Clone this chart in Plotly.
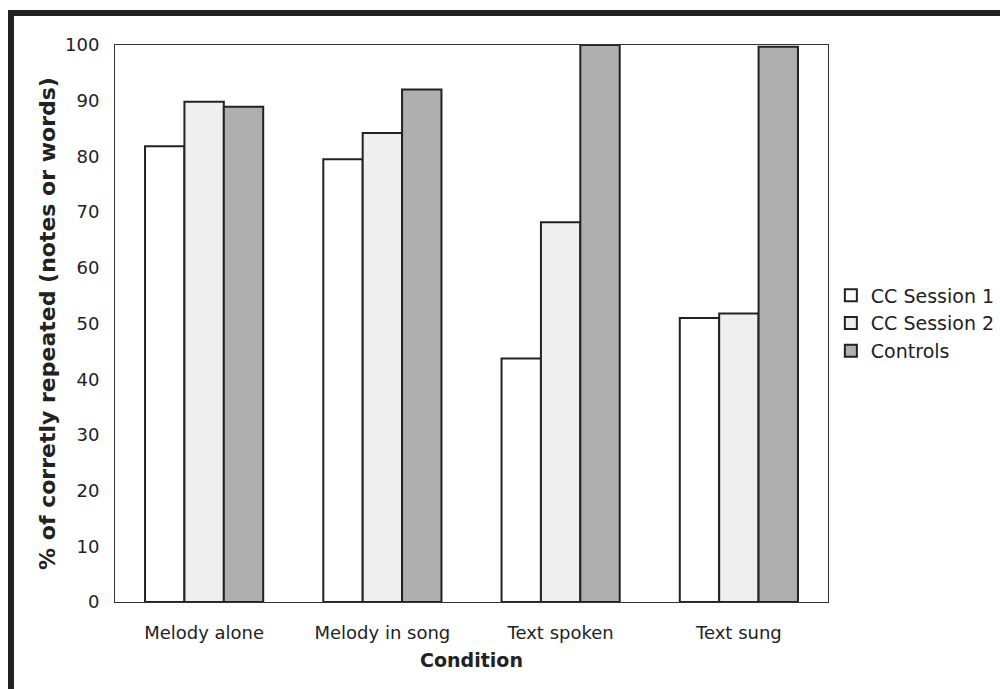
import plotly.graph_objects as go

conditions = ["Melody alone", "Melody in song", "Text spoken", "Text sung"]
session1 = [81.8, 79.5, 43.7, 51.0]
session2 = [89.8, 84.2, 68.2, 51.8]
controls = [88.9, 92.0, 100.0, 99.7]

series = [
    ("CC Session 1", session1, "#ffffff"),
    ("CC Session 2", session2, "#efefef"),
    ("Controls", controls, "#afafaf"),
]

font_family = "DejaVu Sans"

fig = go.Figure()
for name, vals, color in series:
    fig.add_trace(go.Bar(
        name=name,
        x=conditions,
        y=vals,
        marker=dict(color=color, line=dict(color="#222222", width=2)),
    ))

fig.update_layout(
    width=1000,
    height=689,
    barmode="group",
    bargap=0.337,
    bargroupgap=0,
    paper_bgcolor="white",
    plot_bgcolor="white",
    margin=dict(l=115, r=172, t=45, b=87, autoexpand=False),
    font=dict(family=font_family, size=18, color="#222222"),
    legend=dict(
        x=1.004, y=0.5, xanchor="left", yanchor="middle",
        font=dict(size=19, color="#222222"),
        bgcolor="rgba(0,0,0,0)",
        itemwidth=30,
        tracegroupgap=0,
    ),
    xaxis=dict(
        showline=True, linecolor="#333333", linewidth=1, mirror=True,
        ticks="", tickfont=dict(size=18),
        ticklabelstandoff=14,
        title=dict(text="<b>Condition</b>", font=dict(size=19), standoff=12),
    ),
    yaxis=dict(
        range=[0, 100], dtick=10,
        showline=True, linecolor="#333333", linewidth=1, mirror=True,
        showgrid=False, zeroline=False, ticks="",
        tickfont=dict(size=18),
        ticklabelstandoff=11,
        title=dict(text="<b>% of corretly repeated (notes or words)</b>",
                   font=dict(size=22), standoff=3),
    ),
)

# Outer frame around the whole chart
pw = 1000 - 115 - 172
ph = 689 - 45 - 87
def px_x(p):
    return (p - 115) / pw
def px_y(p):
    return (689 - 87 - p) / ph

fig.add_shape(type="rect", xref="paper", yref="paper",
              x0=px_x(11), x1=px_x(1010), y0=px_y(13), y1=px_y(720),
              line=dict(color="#222222", width=6), fillcolor="rgba(0,0,0,0)")

fig.write_html("out.html")
